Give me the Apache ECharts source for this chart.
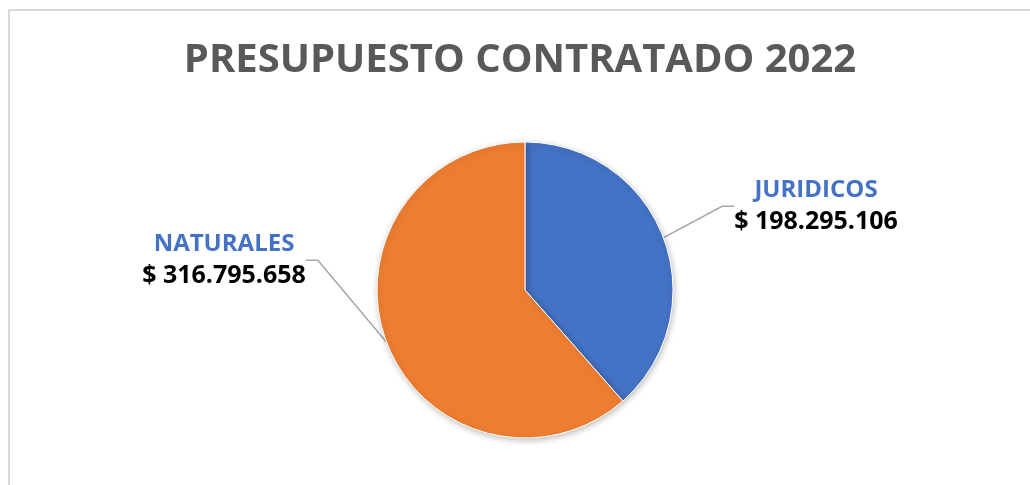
<!DOCTYPE html>
<html>
<head>
<meta charset="utf-8">
<script src="https://cdn.jsdelivr.net/npm/echarts@6/dist/echarts.min.js"></script>
<style>
  html, body { margin: 0; padding: 0; background: #fff; }
  #chart { position: absolute; left: 8px; top: 9px; width: 1022px; height: 476px;
           border-left: 2px solid #d9d9d9; border-top: 2px solid #d9d9d9; box-sizing: border-box; }
</style>
</head>
<body>
<div id="chart"></div>
<script>
const categories = ['JURIDICOS', 'NATURALES']
const values = [198295106, 316795658]
const colors = ['#4472c4', '#ed7d31']
// where each label sits (page px inside the chart box)
const labelSpots = [
  { x: 806, y: 195 },
  { x: 214, y: 249 }
]

function money(v) {
  return '$ ' + String(v).replace(/\B(?=(\d{3})+(?!\d))/g, '.')
}

const chart = echarts.init(document.getElementById('chart'))

chart.setOption({
  animation: false,
  title: {
    text: 'PRESUPUESTO CONTRATADO 2022',
    left: 'center',
    top: 25,
    textStyle: {
      color: '#595959',
      fontFamily: 'Open Sans',
      fontWeight: 'bold',
      fontSize: 40
    }
  },
  series: [{
    type: 'pie',
    center: [515, 279],
    radius: 148,
    startAngle: 90,
    clockwise: true,
    itemStyle: {
      borderColor: '#fff',
      borderWidth: 1,
      shadowBlur: 6,
      shadowColor: 'rgba(0,0,0,0.25)',
      shadowOffsetX: 1,
      shadowOffsetY: 2
    },
    label: {
      show: true,
      position: 'outside',
      formatter: p => '{n|' + p.name + '}\n{v|' + money(p.value) + '}',
      rich: {
        n: { color: '#4472c4', fontFamily: 'Open Sans', fontWeight: 'bold', fontSize: 24, lineHeight: 32, align: 'center' },
        v: { color: '#000', fontFamily: 'Open Sans', fontWeight: 'bold', fontSize: 25, lineHeight: 32, align: 'center' }
      }
    },
    labelLine: {
      show: true,
      length: 20,
      length2: 12,
      lineStyle: { color: '#a6a6a6', width: 1.5 }
    },
    labelLayout: p => ({
      x: labelSpots[p.dataIndex].x,
      y: labelSpots[p.dataIndex].y,
      align: 'center',
      verticalAlign: 'middle'
    }),
    data: categories.map((c, i) => ({
      name: c,
      value: values[i],
      itemStyle: { color: colors[i] }
    }))
  }]
})
</script>
</body>
</html>
